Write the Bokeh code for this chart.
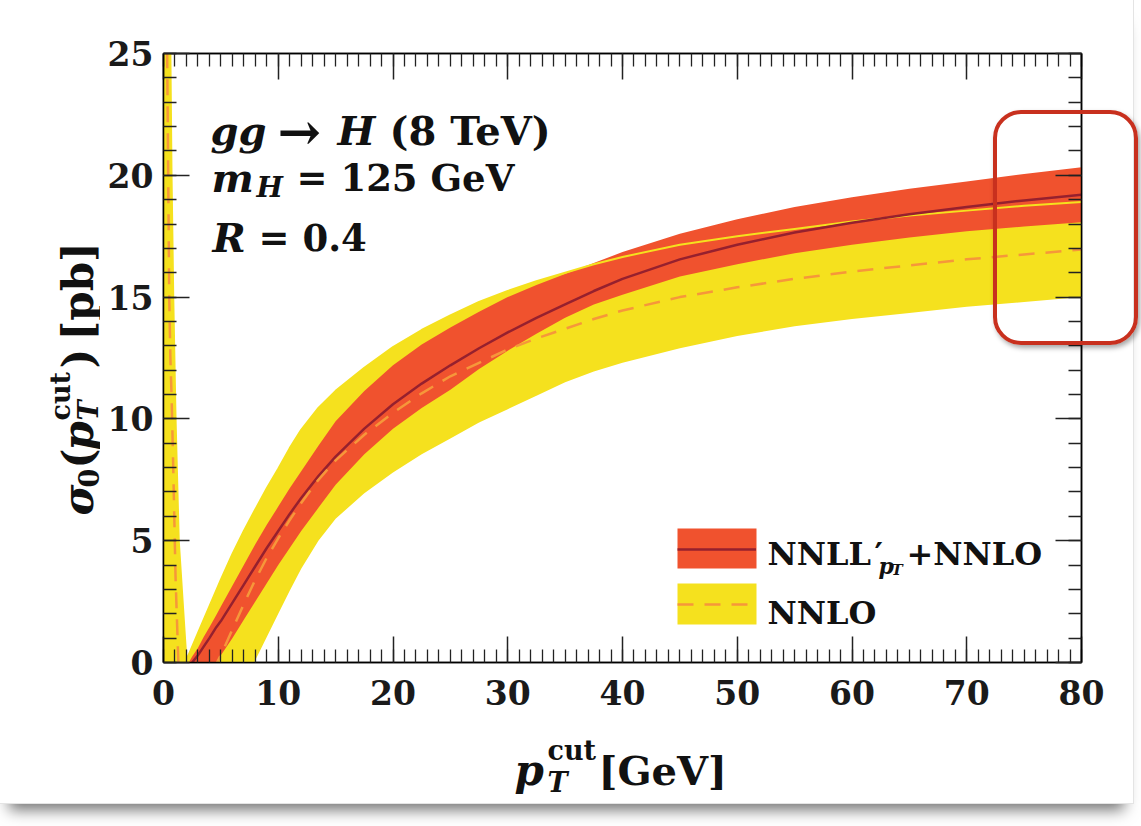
from bokeh.plotting import figure
from bokeh.layouts import row, column
from bokeh.models import (Label, BoxAnnotation, Legend, LegendItem, SingleIntervalTicker,
                          LinearAxis, CustomJSTickFormatter, Range1d, InlineStyleSheet)
from bokeh.embed import file_html
from bokeh.resources import INLINE
import math

# ---------------- data ----------------
# NNLL'pT+NNLO (resummed) band
x_res = [0, 2.2, 2.5, 3, 3.5, 4, 4.6, 5, 6, 7, 8, 9, 10, 11, 12, 13.5, 15, 17.5, 20, 22.5,
         25, 27.5, 30, 32.5, 35, 37.5, 40, 45, 50, 55, 60, 65, 70, 75, 80]
res_up = [0, 0, 0.25, 0.6, 1.05, 1.45, 1.95, 2.3, 3.15, 4.0, 4.85, 5.65, 6.4, 7.15, 7.85, 8.9, 9.9,
          11.15, 12.2, 13.05, 13.75, 14.4, 15.0, 15.5, 15.95, 16.4, 16.85, 17.6, 18.2, 18.7,
          19.1, 19.45, 19.75, 20.05, 20.33]
res_lo = [0, 0, 0, 0, 0, 0, 0, 0.3, 1.0, 1.75, 2.5, 3.25, 4.0, 4.7, 5.4, 6.35, 7.3, 8.55, 9.6,
          10.45, 11.2, 12.05, 12.8, 13.5, 14.15, 14.7, 15.1, 15.85, 16.35, 16.8, 17.15, 17.45,
          17.7, 17.9, 18.07]
# NNLL'pT+NNLO central value
x_res_c = [2.5, 3, 3.5, 4, 4.6, 5, 6, 7, 8, 9, 10, 11, 12, 13.5, 15, 17.5, 20, 22.5, 25, 27.5,
           30, 32.5, 35, 37.5, 40, 45, 50, 55, 60, 65, 70, 75, 80]
res_c = [0, 0.3, 0.65, 1.0, 1.45, 1.7, 2.45, 3.2, 3.95, 4.7, 5.4, 6.1, 6.75, 7.65, 8.45, 9.6,
         10.6, 11.45, 12.2, 12.9, 13.55, 14.15, 14.7, 15.25, 15.75, 16.55, 17.15, 17.65, 18.05,
         18.4, 18.7, 18.97, 19.2]

# NNLO (fixed order) band and central value
x_fo = [0, 0.3, 0.5, 0.6, 0.7, 0.85, 1.05, 1.33, 1.77, 2.0, 3, 4, 5, 6, 7, 7.9, 9, 10, 11, 12,
        13.5, 15, 17.5, 20, 22.5, 25, 27.5, 30, 32.5, 35, 37.5, 40, 45, 50, 55, 60, 65, 70, 75, 80]
fo_up = [60, 35, 28, 25, 20, 15, 10, 5, 1.75, 0.1, 1.2, 2.3, 3.4, 4.45, 5.4, 6.2, 7.15, 7.95,
         8.8, 9.55, 10.45, 11.15, 12.1, 12.95, 13.65, 14.25, 14.8, 15.25, 15.65, 16.0, 16.35,
         16.65, 17.15, 17.5, 17.8, 18.1, 18.35, 18.55, 18.75, 18.9]
fo_lo = [-10, -10, -10, -10, -10, -10, -10, -8, -7, -6, -5, -4, -3, -2, -0.9, 0.0, 1.05, 2.0,
         2.95, 3.85, 5.0, 5.9, 6.95, 7.8, 8.55, 9.2, 9.85, 10.4, 10.95, 11.5, 11.95, 12.3,
         12.9, 13.4, 13.8, 14.1, 14.35, 14.6, 14.8, 15.0]
fo_c = [45, 26, 15, 12.5, 11, 8, 3.5, -0.5, -2.5, -3, -2.5, -0.6, 0.3, 1.35, 2.4, 3.3, 4.3,
        5.1, 5.85, 6.55, 7.5, 8.3, 9.35, 10.25, 11.05, 11.75, 12.3, 12.85, 13.3, 13.7, 14.1,
        14.45, 15.0, 15.4, 15.75, 16.05, 16.3, 16.55, 16.75, 16.95]

x_major_step = 10
y_major_step = 5

# ---------------- styling ----------------
RED = "#F0522E"
YELLOW = "#F5E11E"
DARK = "#96202E"
ORANGE = "#F6973A"
FONT = "DejaVu Serif"
INK = "#111111"

# page layout (pixels)
LEFT_W = 100                      # strip holding the vertical axis title
MAIN_W, MAIN_H = 1033, 730
BOT_H = 73
TOTAL_W, TOTAL_H = LEFT_W + MAIN_W, MAIN_H + BOT_H
FR_L, FR_R, FR_T, FR_B = 163, 1081, 53, 662
X0, X1, Y0, Y1 = 0, 80, 0, 25


def dx(px):
    return X0 + (px - FR_L) * (X1 - X0) / (FR_R - FR_L)


def dy(py):
    return Y0 + (FR_B - py) * (Y1 - Y0) / (FR_B - FR_T)


p = figure(width=MAIN_W, height=MAIN_H, x_range=Range1d(X0, X1), y_range=Range1d(Y0, Y1),
           output_backend="svg", toolbar_location=None, frame_align=False,
           min_border_left=FR_L - LEFT_W, min_border_right=LEFT_W + MAIN_W - FR_R,
           min_border_top=FR_T, min_border_bottom=MAIN_H - FR_B)
p.grid.visible = False
p.outline_line_color = "black"
p.outline_line_width = 1.5
p.background_fill_color = "white"
p.border_fill_color = "white"

xt = SingleIntervalTicker(interval=x_major_step, num_minor_ticks=10)
yt = SingleIntervalTicker(interval=y_major_step, num_minor_ticks=5)


def style_axis(ax, labels=True):
    ax.axis_line_width = 1.5
    ax.axis_line_color = "black"
    ax.major_tick_in = 26
    ax.major_tick_out = 0
    ax.minor_tick_in = 13
    ax.minor_tick_out = 0
    ax.major_tick_line_width = 1.5
    ax.minor_tick_line_width = 1.3
    ax.major_tick_line_color = "#222222"
    ax.minor_tick_line_color = "#222222"
    ax.major_label_text_font = FONT
    ax.major_label_text_font_style = "bold"
    ax.major_label_text_font_size = "33px"
    ax.major_label_text_color = "#1a1a1a"
    if not labels:
        ax.formatter = CustomJSTickFormatter(code="return ''")
        ax.major_label_standoff = 0


p.xaxis.ticker = xt
p.yaxis.ticker = yt
style_axis(p.xaxis[0])
style_axis(p.yaxis[0])
p.xaxis.major_label_standoff = 17
p.yaxis.major_label_standoff = 10

top = LinearAxis(ticker=xt)
style_axis(top, labels=False)
p.add_layout(top, "above")
right = LinearAxis(ticker=yt)
style_axis(right, labels=False)
p.add_layout(right, "right")

# ---------------- data glyphs ----------------
yel = p.varea(x=x_fo, y1=fo_lo, y2=fo_up, fill_color=YELLOW)
red = p.varea(x=x_res, y1=res_lo, y2=res_up, fill_color=RED)
p.line(x_fo, fo_up, line_color=YELLOW, line_width=2)
dark = p.line(x_res_c, res_c, line_color=DARK, line_width=2.5)
dash = p.line(x_fo, fo_c, line_color=ORANGE, line_width=2.5, line_dash="16 11")

# legend: filled swatches + line samples
p.add_layout(BoxAnnotation(left=dx(677), right=dx(756), top=dy(528), bottom=dy(568),
                           fill_color=RED, fill_alpha=1, line_color=None))
p.add_layout(BoxAnnotation(left=dx(677), right=dx(756), top=dy(583), bottom=dy(624),
                           fill_color=YELLOW, fill_alpha=1, line_color=None))
legend = Legend(items=[LegendItem(label=" ", renderers=[dark]),
                       LegendItem(label=" ", renderers=[dash])],
                location=(677 - FR_L, FR_B - 624), glyph_width=79, glyph_height=40,
                spacing=15, padding=0, margin=0, label_standoff=0, label_width=0,
                label_height=0, border_line_color=None, background_fill_alpha=0,
                label_text_font_size="1px")
p.add_layout(legend)


def lab(fig, text, style, size, x, y, angle=0.0):
    fig.add_layout(Label(x=x, y=y, text=text, text_font=FONT, text_font_style=style,
                         text_font_size=f"{size}px", text_color=INK, angle=angle,
                         text_align="left", text_baseline="alphabetic"))


def mlab(text, style, size, px, py):
    lab(p, text, style, size, dx(px), dy(py))


# annotation block
mlab("gg", "bold italic", 40, 210, 130)
mlab("\u2192", "bold", 52, 277, 131)
mlab("H", "bold italic", 40, 337, 130)
mlab("(8 TeV)", "bold", 40, 389, 130)
mlab("m", "bold italic", 40, 211, 177)
mlab("H", "bold italic", 28, 256, 187)
mlab("= 125 GeV", "bold", 37, 296, 177)
mlab("R", "bold italic", 40, 212, 237)
mlab("= 0.4", "bold", 37, 258, 237)

# legend texts
mlab("NNLL", "bold", 32, 767, 553)
mlab("\u2032", "bold", 32, 874, 553)
mlab("p", "bold italic", 22, 878, 565)
mlab("T", "bold italic", 15, 891, 569)
mlab("+NNLO", "bold", 32, 906, 553)
mlab("NNLO", "bold", 32, 767, 612)

# ---------------- axis title strips ----------------
def strip(w, h, x0, x1, y_bottom, y_top):
    f = figure(width=w, height=h, x_range=Range1d(x0, x1), y_range=Range1d(y_bottom, y_top),
               output_backend="svg", toolbar_location=None, min_border=0, frame_align=False,
               x_axis_type=None, y_axis_type=None)
    f.outline_line_color = None
    f.grid.visible = False
    f.background_fill_color = "white"
    f.border_fill_color = "white"
    return f


left_fig = strip(LEFT_W, TOTAL_H, 0, LEFT_W, TOTAL_H, 0)
bot_fig = strip(MAIN_W, BOT_H, LEFT_W, TOTAL_W, TOTAL_H, MAIN_H)

# x axis title: p_T^cut [GeV]
lab(bot_fig, "p", "bold italic", 42, 514, 770)
lab(bot_fig, "cut", "bold", 27, 547, 750)
lab(bot_fig, "T", "bold italic", 27, 547, 782)
lab(bot_fig, "[GeV]", "bold", 40, 598, 770)

# y axis title (rotated): sigma_0(p_T^cut) [pb]
A = math.pi / 2
lab(left_fig, "\u03c3", "bold italic", 42, 78, 515, A)
lab(left_fig, "0", "bold", 27, 88, 487, A)
lab(left_fig, "(", "bold", 42, 78, 468, A)
lab(left_fig, "p", "bold italic", 42, 78, 450, A)
lab(left_fig, "cut", "bold", 27, 60, 420, A)
lab(left_fig, "T", "bold italic", 27, 88, 420, A)
lab(left_fig, ")", "bold", 42, 78, 368, A)
lab(left_fig, "[pb]", "bold", 42, 78, 340, A)

layout = row(left_fig, column(p, bot_fig, spacing=0), spacing=0)
layout.styles = {"box-shadow": "0px 16px 14px -9px rgba(0,0,0,0.55)",
                 "outline": "1px solid #e4e4e4"}
layout.stylesheets = [InlineStyleSheet(css="""
:host::after {
  content: "";
  position: absolute;
  left: 993px; top: 110px; width: 145px; height: 235px;
  box-sizing: border-box;
  border: 4px solid #C8301E;
  border-radius: 28px;
  box-shadow: 2px 3px 5px rgba(0,0,0,0.35);
  pointer-events: none;
  z-index: 10;
}
""")]

open("out.html", "w").write(file_html(layout, INLINE))
